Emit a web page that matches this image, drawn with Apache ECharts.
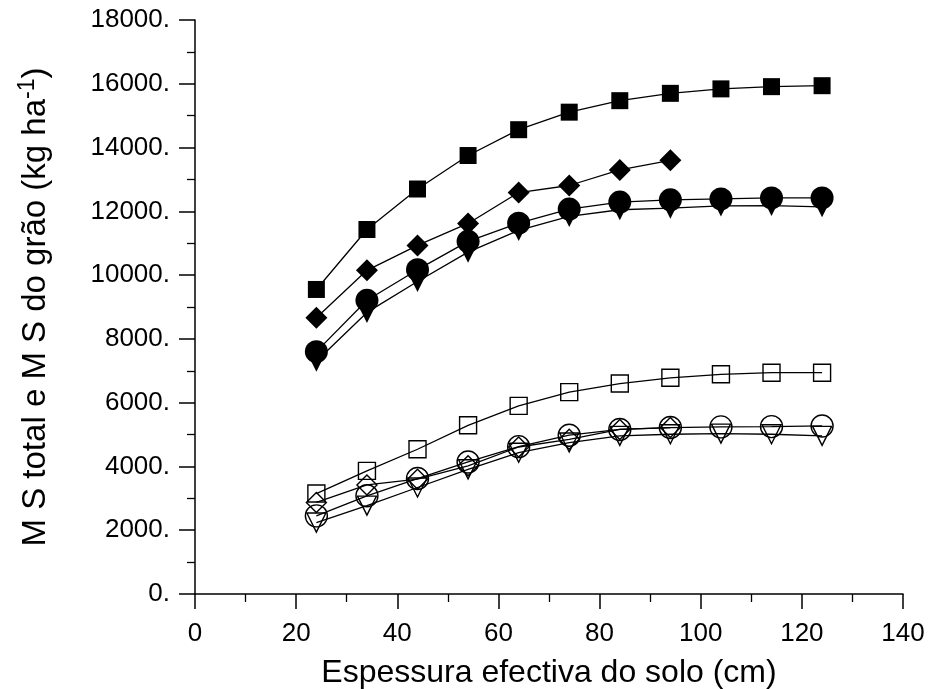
<!DOCTYPE html>
<html>
<head>
<meta charset="utf-8">
<script src="https://cdn.jsdelivr.net/npm/echarts@6/dist/echarts.min.js"></script>
<style>
  html, body { margin: 0; padding: 0; background: #fff; }
  #chart { width: 929px; height: 689px; }
</style>
</head>
<body>
<div id="chart"></div>
<script>
// soil depth (cm)
const depth = [24, 34, 44, 54, 64, 74, 84, 94, 104, 114, 124];

// filled markers (total dry matter)
const sqFilled = [9550, 11430, 12700, 13750, 14560, 15110, 15470, 15700, 15840, 15910, 15940];
const diaFilled = [8660, 10150, 10930, 11620, 12590, 12810, 13300, 13600];
const cirFilled = [7600, 9210, 10170, 11060, 11630, 12070, 12290, 12360, 12390, 12420, 12420];
const triFilled = [7300, 8830, 9800, 10720, 11400, 11840, 12050, 12100, 12170, 12180, 12140];

// open markers (grain dry matter)
const sqOpen = [3150, 3860, 4540, 5290, 5900, 6330, 6600, 6780, 6890, 6940, 6940];
const diaOpen = [2870, 3420, 3600, 4020, 4610, 4850, 5160, 5220];
const cirOpen = [2450, 3080, 3620, 4140, 4620, 4980, 5160, 5220, 5240, 5250, 5270];
const triOpen = [2240, 2770, 3340, 3910, 4430, 4750, 4960, 5010, 5030, 5010, 4960];

const yTicks = [0, 2000, 4000, 6000, 8000, 10000, 12000, 14000, 16000, 18000];
const xTicks = [0, 20, 40, 60, 80, 100, 120, 140];

const font = "Liberation Sans, Arial, sans-serif";

function pairs(vals) {
  return vals.map((v, i) => [depth[i], v]);
}

function makeSeries(vals, symbol, size, filled, rotate) {
  return {
    type: "line",
    data: pairs(vals),
    symbol: symbol,
    symbolSize: size,
    symbolRotate: rotate || 0,
    showAllSymbol: true,
    lineStyle: { color: "#000", width: 1.3 },
    itemStyle: filled
      ? { color: "#000", borderColor: "#000", borderWidth: 0 }
      : { color: "rgba(0,0,0,0)", borderColor: "#000", borderWidth: 1.4 },
    emphasis: { disabled: true },
    animation: false,
  };
}

const chart = echarts.init(document.getElementById("chart"));

chart.setOption({
  backgroundColor: "#fff",
  animation: false,
  grid: { left: 195, right: 26, top: 20, bottom: 95, outerBoundsMode: "none", containLabel: false },
  xAxis: {
    type: "value",
    min: 0,
    max: 140,
    interval: 20,
    name: "Espessura efectiva do solo (cm)",
    nameLocation: "middle",
    nameGap: 63,
    nameTextStyle: { fontFamily: font, fontSize: 32, color: "#000" },
    axisLine: { lineStyle: { color: "#000", width: 1.5 } },
    axisTick: { length: 15, lineStyle: { color: "#000", width: 1.5 } },
    minorTick: { show: true, splitNumber: 2, length: 8, lineStyle: { color: "#000", width: 1.3 } },
    splitLine: { show: false },
    axisLabel: {
      fontFamily: font,
      fontSize: 26,
      color: "#000",
      margin: 27,
      formatter: (v) => (xTicks.includes(v) ? String(v) : ""),
    },
  },
  yAxis: {
    type: "value",
    min: 0,
    max: 18000,
    interval: 2000,
    name: "M S total e M S do grão (kg ha{sup|-1})",
    nameLocation: "middle",
    nameGap: 140,
    nameTextStyle: {
      fontFamily: font,
      fontSize: 33,
      color: "#000",
      rich: { sup: { fontFamily: font, fontSize: 23, color: "#000", verticalAlign: "top", padding: [0, 0, 16, 0] } },
    },
    axisLine: { show: true, lineStyle: { color: "#000", width: 1.5 } },
    axisTick: { length: 16, lineStyle: { color: "#000", width: 1.5 } },
    minorTick: { show: true, splitNumber: 2, length: 8, lineStyle: { color: "#000", width: 1.3 } },
    splitLine: { show: false },
    axisLabel: {
      fontFamily: font,
      fontSize: 26,
      color: "#000",
      margin: 25,
      formatter: (v) => (yTicks.includes(v) ? v + "." : ""),
    },
  },
  series: [
    makeSeries(triOpen, "triangle", 19, false, 180),
    makeSeries(cirOpen, "circle", 22, false),
    makeSeries(diaOpen, "diamond", 20, false),
    makeSeries(sqOpen, "rect", 17, false),
    makeSeries(triFilled, "triangle", 21, true, 180),
    makeSeries(cirFilled, "circle", 23, true),
    makeSeries(diaFilled, "diamond", 22, true),
    makeSeries(sqFilled, "rect", 17, true),
  ],
});
</script>
</body>
</html>
